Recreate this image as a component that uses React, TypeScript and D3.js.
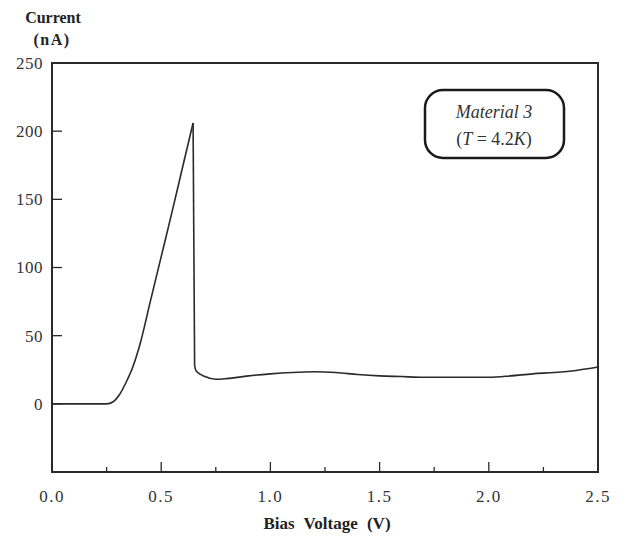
import React from "react";
import * as d3 from "d3";

const voltage = [0, 0.1, 0.2, 0.25, 0.28, 0.31, 0.34, 0.37, 0.4, 0.45, 0.5, 0.55, 0.6, 0.646, 0.653, 0.66, 0.7, 0.75, 0.8, 0.9, 1.0, 1.1, 1.2, 1.3, 1.4, 1.5, 1.6, 1.7, 1.8, 1.9, 2.0, 2.1, 2.2, 2.3, 2.4, 2.5];
const current = [0, 0, 0, 0, 1.5, 7, 16, 27, 42, 75, 108, 141, 175, 206, 28, 24, 20, 18, 18.5, 20.5, 22, 23, 23.5, 23, 21.5, 20.5, 20, 19.5, 19.5, 19.5, 19.5, 20.5, 22, 23, 24.5, 27];

const xTicks = [0, 0.5, 1.0, 1.5, 2.0, 2.5];
const xMinorTicks = [0.25, 0.75, 1.25, 1.75, 2.25];
const yTicks = [0, 50, 100, 150, 200, 250];

const W = 634, H = 539;
const m = { left: 52, right: 36, top: 63, bottom: 67 };
const serif = "'Liberation Serif', 'Times New Roman', serif";
const ink = "#2a2a2a";

export default function App() {
  const x = d3.scaleLinear().domain([0, 2.5]).range([m.left, W - m.right]);
  const y = d3.scaleLinear().domain([-50, 250]).range([H - m.bottom, m.top]);

  const pts: [number, number][] = voltage.map((v, i) => [v, current[i]]);
  // split at the peak so the spike stays sharp
  const peak = d3.maxIndex(current);
  const line = d3.line<[number, number]>()
    .x(d => x(d[0]))
    .y(d => y(d[1]))
    .curve(d3.curveMonotoneX);
  const drop = d3.line<[number, number]>()
    .x(d => x(d[0]))
    .y(d => y(d[1]));

  const x0 = x(0), x1 = x(2.5), yb = y(-50), yt = y(250);

  return (
    <svg width={W} height={H} style={{ position: "absolute", left: 0, top: 0, background: "#fff" }}>
      {/* frame */}
      <rect x={x0} y={yt} width={x1 - x0} height={yb - yt} fill="none" stroke={ink} strokeWidth={2} />

      {/* y ticks, inward */}
      {yTicks.map(t => (
        <g key={"y" + t}>
          <line x1={x0} x2={x0 + 10} y1={y(t)} y2={y(t)} stroke={ink} strokeWidth={1.3} />
          <text x={43} y={y(t)} dy="0.35em" textAnchor="end" fontFamily={serif} fontSize={17} letterSpacing={0.5} fill="#333">{t}</text>
        </g>
      ))}

      {/* x ticks, inward */}
      {xTicks.map(t => (
        <g key={"x" + t}>
          <line x1={x(t)} x2={x(t)} y1={yb} y2={yb - 10} stroke={ink} strokeWidth={1.3} />
          <text x={x(t)} y={502} textAnchor="middle" fontFamily={serif} fontSize={17} letterSpacing={1.5} fill="#333">{t.toFixed(1)}</text>
        </g>
      ))}
      {xMinorTicks.map(t => (
        <line key={"xm" + t} x1={x(t)} x2={x(t)} y1={yb} y2={yb - 5} stroke={ink} strokeWidth={1.3} />
      ))}

      {/* data curve */}
      <path d={line(pts.slice(0, peak + 1)) || ""} fill="none" stroke={ink} strokeWidth={1.6} strokeLinejoin="round" />
      <path d={drop(pts.slice(peak, peak + 2)) || ""} fill="none" stroke={ink} strokeWidth={1.6} />
      <path d={line(pts.slice(peak + 1)) || ""} fill="none" stroke={ink} strokeWidth={1.6} />

      {/* annotation */}
      <rect x={425} y={90} width={139} height={68} rx={18} ry={18} fill="#fff" stroke="#1a1a1a" strokeWidth={2.5} />
      <text x={494} y={118} textAnchor="middle" fontFamily={serif} fontStyle="italic" fontSize={18} fill="#333">Material 3</text>
      <text x={494} y={145} textAnchor="middle" fontFamily={serif} fontSize={18} fill="#333">
        (<tspan fontStyle="italic">T</tspan> = 4.2<tspan fontStyle="italic">K</tspan>)
      </text>

      {/* axis titles */}
      <text x={53} y={23} textAnchor="middle" fontFamily={serif} fontWeight="bold" fontSize={16} fill="#222">Current</text>
      <text x={52} y={45} textAnchor="middle" fontFamily={serif} fontWeight="bold" fontSize={16} letterSpacing={1.5} fill="#222">(nA)</text>
      <text x={327} y={529} textAnchor="middle" fontFamily={serif} fontWeight="bold" fontSize={17} wordSpacing={5} fill="#222">Bias Voltage (V)</text>
    </svg>
  );
}
